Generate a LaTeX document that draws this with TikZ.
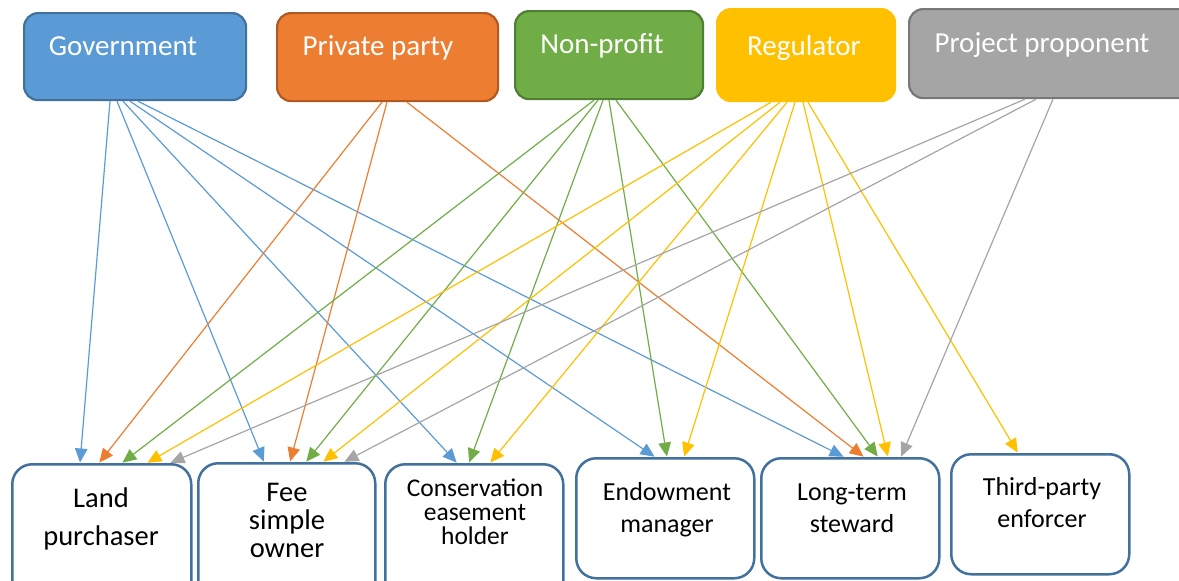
\documentclass[tikz,border=0pt]{standalone}
\usepackage{fontspec}
\setmainfont{Carlito}
\usetikzlibrary{arrows.meta}
\definecolor{cblue}{HTML}{5B9BD5}
\definecolor{cblueedge}{HTML}{41719C}
\definecolor{corange}{HTML}{ED7D31}
\definecolor{corangeedge}{HTML}{AE5A21}
\definecolor{cgreen}{HTML}{70AD47}
\definecolor{cgreenedge}{HTML}{507E32}
\definecolor{cyellow}{HTML}{FFC000}
\definecolor{cgray}{HTML}{A5A5A5}
\definecolor{cgrayedge}{HTML}{787878}
\tikzset{
  rolebox/.style={rounded corners=14pt, line width=2.2pt, anchor=north west, inner sep=0pt},
  taskbox/.style={draw=cblueedge, fill=white, rounded corners=20pt, line width=2.5pt,
    anchor=north west, inner sep=0pt, minimum width=178pt},
  toplabel/.style={text=white, anchor=base, inner sep=0pt, font=\fontsize{29}{35}\selectfont},
  biglabel/.style={text=black, anchor=base, inner sep=0pt, font=\fontsize{28.5}{34}\selectfont},
  smalllabel/.style={text=black, anchor=base, inner sep=0pt, font=\fontsize{26}{31}\selectfont},
  tightlabel/.style={text=black, anchor=base, inner sep=0pt, font=\fontsize{25.5}{30}\selectfont},
  link/.style={-{Triangle[length=14pt,width=12.5pt]}, line width=1.2pt, shorten >=0.5pt},
}
\begin{document}
\begin{tikzpicture}[x=1pt,y=-1pt]
\useasboundingbox (0,0) rectangle (1179,581);
\clip (0,0) rectangle (1179,581);

% role boxes along the top
\node[rolebox, fill=cblue, draw=cblueedge, minimum width=222pt, minimum height=87pt] (gov) at (23,12) {};
\node[rolebox, fill=corange, draw=corangeedge, minimum width=221pt, minimum height=88pt] (priv) at (276,12) {};
\node[rolebox, fill=cgreen, draw=cgreenedge, minimum width=188pt, minimum height=88pt] (nonp) at (514,10) {};
\node[rolebox, fill=cyellow, draw=cyellow, minimum width=178pt, minimum height=92pt] (reg) at (716,8) {};
\node[rolebox, fill=cgray, draw=cgrayedge, minimum width=290pt, minimum height=89pt] (proj) at (908,8) {};

\node[toplabel] (govt) at (123,55) {Government};
\node[toplabel] (privt) at (378,55) {Private party};
\node[toplabel] (nonpt) at (602,53) {Non-profit};
\node[toplabel] (regt) at (804,55) {Regulator};
\node[toplabel] (projt) at (1042,52) {Project proponent};

% task boxes along the bottom
\node[taskbox, minimum width=179pt, minimum height=160pt] (land) at (11,463) {};
\node[taskbox, minimum width=177pt, minimum height=160pt] (fee) at (197,462) {};
\node[taskbox, minimum height=160pt] (cons) at (384,463) {};
\node[taskbox, minimum height=120pt] (endow) at (575,457) {};
\node[taskbox, minimum height=120pt] (long) at (760,457) {};
\node[taskbox, minimum height=120pt] (third) at (950,453) {};

\node[biglabel] (land1) at (101,507) {Land};
\node[biglabel] (land2) at (101,545) {purchaser};
\node[biglabel] (fee1) at (287,501) {Fee};
\node[biglabel] (fee2) at (287,529) {simple};
\node[biglabel] (fee3) at (287,557) {owner};
\node[tightlabel] (cons1) at (475,496) {Conservation};
\node[tightlabel] (cons2) at (475,520) {easement};
\node[tightlabel] (cons3) at (475,544) {holder};
\node[smalllabel] (endow1) at (667,500) {Endowment};
\node[smalllabel] (endow2) at (667,532) {manager};
\node[smalllabel] (long1) at (852,500) {Long-term};
\node[smalllabel] (long2) at (852,532) {steward};
\node[smalllabel] (third1) at (1042,495) {Third-party};
\node[smalllabel] (third2) at (1042,527) {enforcer};

% Government
\begin{scope}[link, cblue]
\draw ([xshift=87pt]gov.south west) -- ([xshift=69pt]land.north west);
\draw ([xshift=94pt]gov.south west) -- ([xshift=67pt]fee.north west);
\draw ([xshift=100pt]gov.south west) -- ([xshift=73pt]cons.north west);
\draw ([xshift=107pt]gov.south west) -- ([xshift=80pt]endow.north west);
\draw ([xshift=115pt]gov.south west) -- ([xshift=84pt]long.north west);
\end{scope}
% Private party
\begin{scope}[link, corange]
\draw ([xshift=106pt]priv.south west) -- ([xshift=88pt]land.north west);
\draw ([xshift=111pt]priv.south west) -- ([xshift=93pt]fee.north west);
\draw ([xshift=131pt]priv.south west) -- ([xshift=104pt]long.north west);
\end{scope}
% Non-profit
\begin{scope}[link, cgreen]
\draw ([xshift=80pt]nonp.south west) -- ([xshift=111pt]land.north west);
\draw ([xshift=84pt]nonp.south west) -- ([xshift=109pt]fee.north west);
\draw ([xshift=89pt]nonp.south west) -- ([xshift=85pt]cons.north west);
\draw ([xshift=95pt]nonp.south west) -- ([xshift=92pt]endow.north west);
\draw ([xshift=102pt]nonp.south west) -- ([xshift=118pt]long.north west);
\end{scope}
% Regulator
\begin{scope}[link, cyellow]
\draw ([xshift=55pt]reg.south west) -- ([xshift=136pt]land.north west);
\draw ([xshift=64pt]reg.south west) -- ([xshift=126pt]fee.north west);
\draw ([xshift=71pt]reg.south west) -- ([xshift=106pt]cons.north west);
\draw ([xshift=79pt]reg.south west) -- ([xshift=109pt]endow.north west);
\draw ([xshift=87pt]reg.south west) -- ([xshift=128pt]long.north west);
\draw ([xshift=92pt]reg.south west) -- ([xshift=68pt]third.north west);
\end{scope}
% Project proponent
\begin{scope}[link, cgray]
\draw ([xshift=117pt]proj.south west) -- ([xshift=159pt]land.north west);
\draw ([xshift=128pt]proj.south west) -- ([xshift=147pt]fee.north west);
\draw ([xshift=145pt]proj.south west) -- ([xshift=141pt]long.north west);
\end{scope}
\end{tikzpicture}
\end{document}
